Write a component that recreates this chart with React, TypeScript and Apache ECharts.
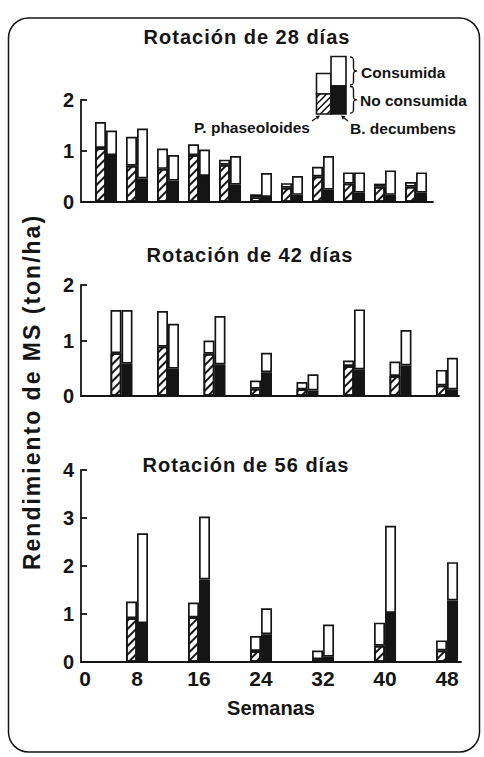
import React, { useEffect, useRef } from 'react';
import * as echarts from 'echarts';

// ---- Data (ton/ha of dry matter) ----
const weeks28 = [4, 8, 12, 16, 20, 24, 28, 32, 36, 40, 44];
const p28Total = [1.57, 1.28, 1.05, 1.13, 0.83, 0.15, 0.37, 0.69, 0.58, 0.36, 0.39];
const p28NoCons = [1.06, 0.71, 0.65, 0.92, 0.73, 0.09, 0.28, 0.50, 0.36, 0.30, 0.30];
const b28Total = [1.40, 1.44, 0.92, 1.03, 0.90, 0.57, 0.51, 0.90, 0.58, 0.62, 0.58];
const b28NoCons = [0.92, 0.46, 0.42, 0.51, 0.34, 0.10, 0.14, 0.24, 0.18, 0.14, 0.18];

const weeks42 = [6, 12, 18, 24, 30, 36, 42, 48];
const p42Total = [1.55, 1.53, 1.00, 0.28, 0.25, 0.64, 0.62, 0.47];
const p42NoCons = [0.77, 0.89, 0.76, 0.13, 0.12, 0.54, 0.36, 0.19];
const b42Total = [1.55, 1.30, 1.44, 0.78, 0.39, 1.56, 1.19, 0.69];
const b42NoCons = [0.58, 0.49, 0.57, 0.43, 0.10, 0.48, 0.55, 0.12];

const weeks56 = [8, 16, 24, 32, 40, 48];
const p56Total = [1.26, 1.24, 0.54, 0.24, 0.82, 0.45];
const p56NoCons = [0.91, 0.93, 0.23, 0.06, 0.34, 0.24];
const b56Total = [2.68, 3.03, 1.12, 0.78, 2.84, 2.08];
const b56NoCons = [0.81, 1.72, 0.58, 0.11, 1.02, 1.28];

const xTickLabels = ['0', '8', '16', '24', '32', '40', '48'];
const panelTitles = ['Rotación de 28 días', 'Rotación de 42 días', 'Rotación de 56 días'];
const yMaxes = [2, 2, 4];
const legendConsumida = 'Consumida';
const legendNoConsumida = 'No consumida';
const legendP = 'P. phaseoloides';
const legendB = 'B. decumbens';
const yAxisTitle = 'Rendimiento de MS (ton/ha)';
const xAxisTitle = 'Semanas';

const FONT = '"Liberation Sans", Arial, Helvetica, sans-serif';
const INK = '#151515';

echarts.graphic.registerShape(
  'brace',
  echarts.graphic.extendPath(
    'M0,0 C3,0 3.5,1 3.5,4 L3.5,10.5 C3.5,13 4,14 7,14 C4,14 3.5,15 3.5,17.5 L3.5,24 C3.5,27 3,28 0,28',
    {}
  )
);

const hatchDecal = {
  symbol: 'rect',
  symbolSize: 1,
  color: INK,
  backgroundColor: '#fff',
  dashArrayX: [1, 0],
  dashArrayY: [1.7, 3.1],
  rotation: -Math.PI / 4,
};

function hatchLines(x0: number, y0: number, w: number, h: number, step: number) {
  const out: any[] = [];
  for (let c = y0 + step / 2; c < y0 + h + w; c += step) {
    const t1 = Math.max(0, c - y0 - h);
    const t2 = Math.min(w, c - y0);
    if (t2 - t1 > 0.5) {
      out.push({
        type: 'line',
        silent: true,
        shape: { x1: x0 + t1, y1: c - t1, x2: x0 + t2, y2: c - t2 },
        style: { stroke: INK, lineWidth: 1.6 },
      });
    }
  }
  return out;
}

function arrow(x1: number, y1: number, x2: number, y2: number) {
  const a = Math.atan2(y2 - y1, x2 - x1);
  const L = 4;
  const W = 2.2;
  const bx = x2 - L * Math.cos(a);
  const by = y2 - L * Math.sin(a);
  const px = -Math.sin(a) * W;
  const py = Math.cos(a) * W;
  return [
    { type: 'line', silent: true, shape: { x1, y1, x2: bx, y2: by }, style: { stroke: INK, lineWidth: 1.4 } },
    { type: 'polygon', silent: true, shape: { points: [[x2, y2], [bx + px, by + py], [bx - px, by - py]] }, style: { fill: INK } },
  ];
}

// data rows are [value, week]; encode maps week to x so that the value dimension is the stacked one
function panelSeries(g: number, weeks: number[], pT: number[], pN: number[], bT: number[], bN: number[]) {
  const common = {
    type: 'bar', xAxisIndex: g, yAxisIndex: g, barWidth: 11, barGap: '0%',
    encode: { x: 1, y: 0 },
  };
  const border = { borderColor: INK, borderWidth: 1.7 };
  return [
    {
      ...common, name: legendP + ' ' + legendNoConsumida, stack: 'P' + g,
      itemStyle: { color: '#fff', ...border, decal: hatchDecal },
      data: weeks.map((w, i) => [pN[i], w]),
    },
    {
      ...common, name: legendP + ' ' + legendConsumida, stack: 'P' + g,
      itemStyle: { color: '#fff', ...border },
      data: weeks.map((w, i) => [+(pT[i] - pN[i]).toFixed(2), w]),
    },
    {
      ...common, name: legendB + ' ' + legendNoConsumida, stack: 'B' + g,
      itemStyle: { color: INK, ...border },
      data: weeks.map((w, i) => [bN[i], w]),
    },
    {
      ...common, name: legendB + ' ' + legendConsumida, stack: 'B' + g,
      itemStyle: { color: '#fff', ...border },
      data: weeks.map((w, i) => [+(bT[i] - bN[i]).toFixed(2), w]),
    },
  ];
}

export default function App() {
  const ref = useRef<HTMLDivElement>(null);
  useEffect(() => {
    document.body.style.margin = '0';
    const el = ref.current!;
    const chart = echarts.init(el, null, { renderer: 'svg' });

    // pixel layout: week w sits at x = 75 + 7.75 w
    const grids = [
      { left: 81, top: 100, width: 352, height: 102 },
      { left: 81, top: 285, width: 378, height: 111 },
      { left: 81, top: 470, width: 380, height: 192 },
    ];
    const xMax = [46.19, 49.55, 49.8];
    const axisLineStyle = { color: INK, width: 1.8 };

    const xAxes = grids.map((_, g) => ({
      type: 'value',
      gridIndex: g,
      min: 0.774,
      max: xMax[g],
      axisLine: { show: true, onZero: false, lineStyle: axisLineStyle },
      axisTick: { show: false },
      splitLine: { show: false },
      name: g === 2 ? xAxisTitle : '',
      nameLocation: 'middle',
      nameGap: 36,
      nameTextStyle: { fontFamily: FONT, fontWeight: 'bold', fontSize: 20, color: INK },
      axisLabel: {
        show: g === 2,
        customValues: xTickLabels.map((s) => (Number(s) === 0 ? 1.3 : Number(s))),
        formatter: (v: number) => (v < 4 ? xTickLabels[0] : String(Math.round(v))),
        fontFamily: FONT,
        fontWeight: 'bold',
        fontSize: 21,
        color: INK,
        margin: 6,
      },
    }));

    const yAxes = grids.map((_, g) => ({
      type: 'value',
      gridIndex: g,
      min: 0,
      max: yMaxes[g],
      interval: 1,
      axisLine: { show: true, lineStyle: axisLineStyle },
      axisTick: { show: true, inside: true, length: 6, lineStyle: axisLineStyle },
      splitLine: { show: false },
      axisLabel: { fontFamily: FONT, fontWeight: 'bold', fontSize: 20, color: INK, margin: 7 },
    }));

    const series = [
      ...panelSeries(0, weeks28, p28Total, p28NoCons, b28Total, b28NoCons),
      ...panelSeries(1, weeks42, p42Total, p42NoCons, b42Total, b42NoCons),
      ...panelSeries(2, weeks56, p56Total, p56NoCons, b56Total, b56NoCons),
    ];

    const titlePos = [
      [247, 37],
      [250, 255],
      [246, 465],
    ];
    const textBase = { fontFamily: FONT, fontWeight: 'bold', fill: INK };

    const graphic: any[] = [
      {
        type: 'rect', silent: true,
        shape: { x: 8.5, y: 18, width: 471, height: 734, r: 20 },
        style: { fill: 'none', stroke: INK, lineWidth: 1.5 },
      },
      ...panelTitles.map((t, i) => ({
        type: 'text', silent: true, x: titlePos[i][0], y: titlePos[i][1],
        style: { ...textBase, text: t, fontSize: 20, align: 'center', verticalAlign: 'middle' },
      })),
      {
        type: 'text', silent: true, x: 32, y: 392, rotation: Math.PI / 2,
        style: { ...textBase, text: yAxisTitle, fontSize: 23, align: 'center', verticalAlign: 'middle' },
      },
      // legend bars
      { type: 'rect', silent: true, shape: { x: 316.5, y: 73.5, width: 14.5, height: 20.5 }, style: { fill: '#fff', stroke: INK, lineWidth: 1.6 } },
      { type: 'rect', silent: true, shape: { x: 316.5, y: 94, width: 14.5, height: 20 }, style: { fill: '#fff', stroke: INK, lineWidth: 1.6 } },
      ...hatchLines(316.5, 94, 14.5, 20, 6.8),
      { type: 'rect', silent: true, shape: { x: 331, y: 56.5, width: 15, height: 29.5 }, style: { fill: '#fff', stroke: INK, lineWidth: 1.6 } },
      { type: 'rect', silent: true, shape: { x: 331, y: 86, width: 15, height: 28 }, style: { fill: INK, stroke: INK, lineWidth: 1.6 } },
      { type: 'brace', silent: true, x: 350, y: 57, style: { fill: 'none', stroke: INK, lineWidth: 1.4 } },
      { type: 'brace', silent: true, x: 350, y: 86.5, scaleY: 0.95, style: { fill: 'none', stroke: INK, lineWidth: 1.4 } },
      {
        type: 'text', silent: true, x: 361, y: 72,
        style: { ...textBase, text: legendConsumida, fontSize: 15.5, align: 'left', verticalAlign: 'middle' },
      },
      {
        type: 'text', silent: true, x: 360, y: 100,
        style: { ...textBase, text: legendNoConsumida, fontSize: 15.5, align: 'left', verticalAlign: 'middle' },
      },
      {
        type: 'text', silent: true, x: 310, y: 127,
        style: { ...textBase, text: legendP, fontSize: 15.5, align: 'right', verticalAlign: 'middle' },
      },
      {
        type: 'text', silent: true, x: 350, y: 128,
        style: { ...textBase, text: legendB, fontSize: 15.5, align: 'left', verticalAlign: 'middle' },
      },
      ...arrow(312, 121, 320, 115.5),
      ...arrow(348, 121, 341, 115.5),
    ];

    chart.setOption({
      animation: false,
      backgroundColor: '#fff',
      grid: grids.map((g) => ({ ...g, containLabel: false })),
      xAxis: xAxes,
      yAxis: yAxes,
      series,
      graphic,
    } as any);

    // the printed figure uses widely tracked lettering
    const track = () => {
      el.querySelectorAll('text').forEach((t) => {
        const s = t.textContent || '';
        if (panelTitles.includes(s)) t.setAttribute('letter-spacing', '1');
        if (s === yAxisTitle) t.setAttribute('letter-spacing', '2');
      });
    };
    track();
    chart.on('finished', track);
    const timer = setTimeout(track, 30);

    return () => {
      clearTimeout(timer);
      chart.dispose();
    };
  }, []);

  return <div ref={ref} style={{ width: 484, height: 757 }} />;
}
